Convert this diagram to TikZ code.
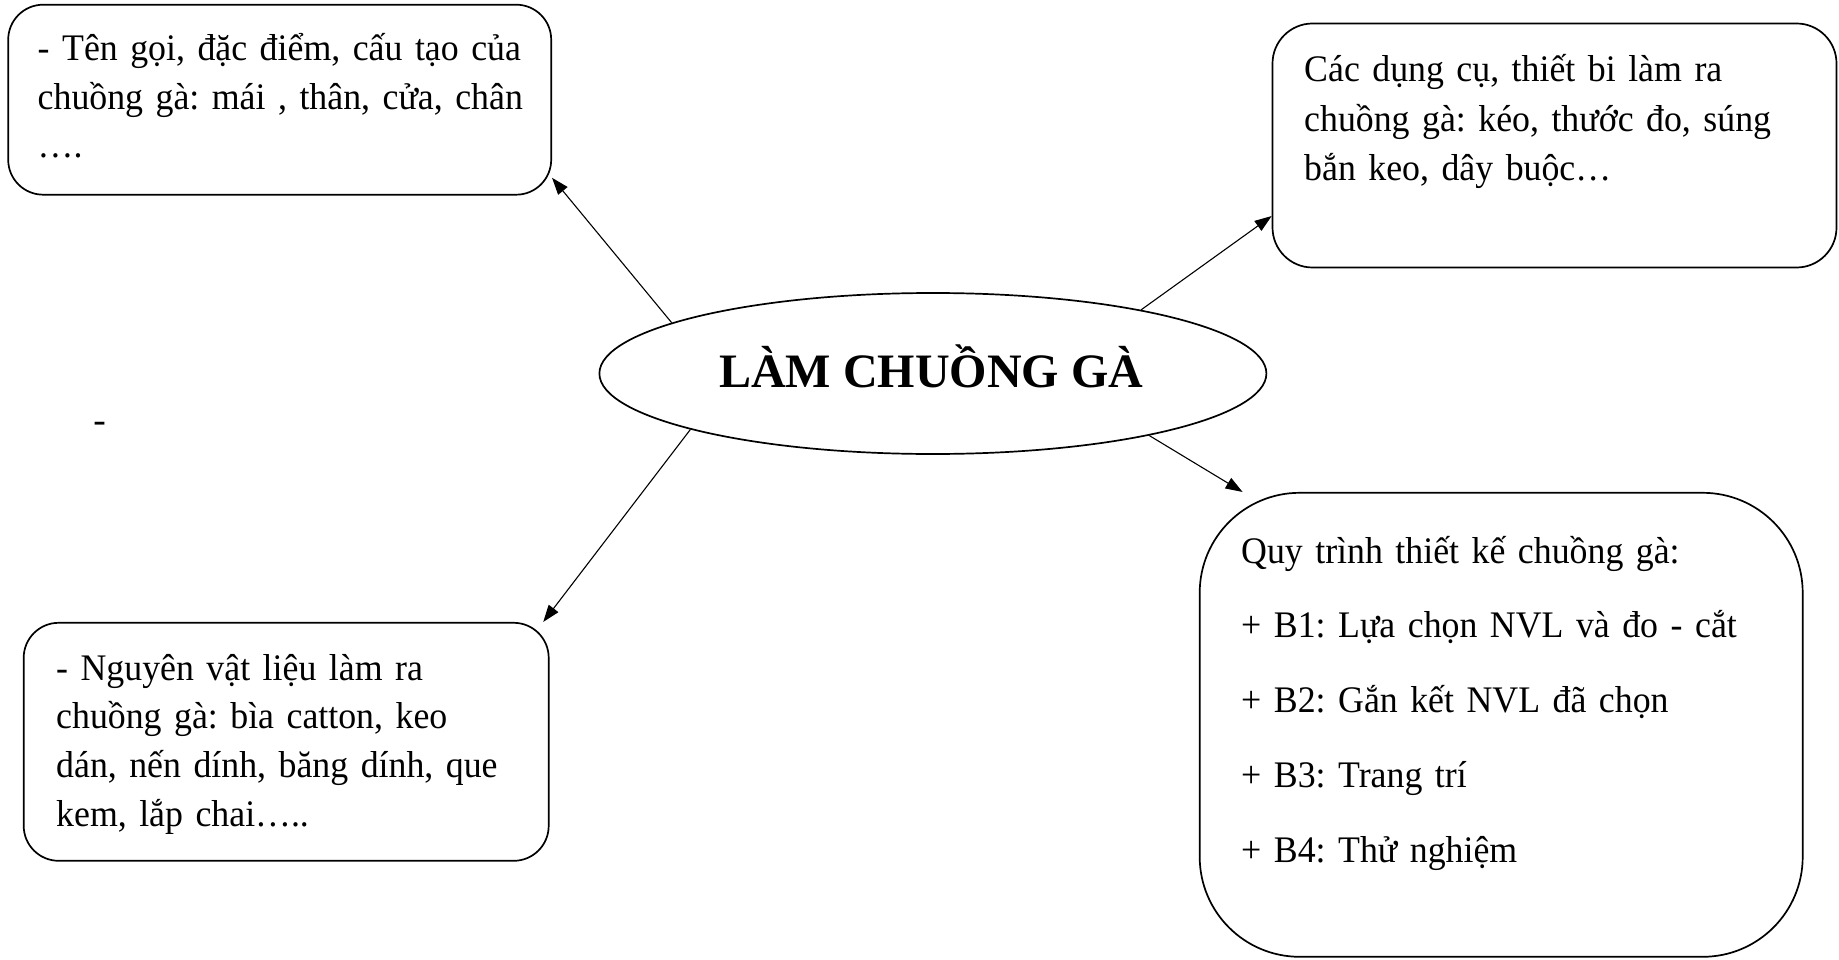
\documentclass[tikz,border=0pt]{standalone}
\usepackage{fontspec}
\setmainfont{Liberation Serif}
\newfontfamily\bodyfont[FakeStretch=0.955]{Liberation Serif}
\usetikzlibrary{shapes.geometric,arrows.meta,calc}
\frenchspacing
\begin{document}
\begin{tikzpicture}[x=1pt,y=-1pt,
  box/.style={draw,line width=1.7pt,rounded corners=#1,inner sep=0pt},
  txt/.style={font=\bodyfont\fontsize{37.5}{#1}\selectfont\frenchspacing,align=left,inner sep=0pt,anchor=base west,text width=600pt},
  arr/.style={-{Triangle[length=17pt,width=12pt]},line width=1.1pt}]
\useasboundingbox (0,0) rectangle (1839,960);
% boxes
\node[box=35pt,minimum width=543pt,minimum height=190pt] (b1) at (279.7,99.7) {};
\node[box=40pt,minimum width=564pt,minimum height=244pt] (b2) at (1554.5,145.5) {};
\node[box=35pt,minimum width=525pt,minimum height=238pt] (b3) at (286.2,741.8) {};
\node[box=100pt,minimum width=603pt,minimum height=464pt] (b4) at (1501.2,724.8) {};
% centre
\node[ellipse,draw,line width=1.7pt,minimum width=667pt,minimum height=161pt,inner sep=0pt] (ell) at (932.9,373.5) {};
\node[font=\fontsize{48}{56}\selectfont\bfseries,anchor=base,inner sep=0pt] (title) at (931,387) {LÀM CHUỒNG GÀ};
% texts
\node[txt=48.5pt] (t1) at (37.5,61) {- Tên gọi, đặc điểm, cấu tạo của\\chuồng gà: mái , thân, cửa, chân\\….};
\node[txt=49.5pt] (t2) at (1304,82) {Các dụng cụ, thiết bi làm ra\\chuồng gà: kéo, thước đo, súng\\bắn keo, dây buộc…};
\node[txt=48.7pt] (t3) at (56,680) {- Nguyên vật liệu làm ra\\chuồng gà: bìa catton, keo\\dán, nến dính, băng dính, que\\kem, lắp chai…..};
\node[txt=74.75pt] (t4) at (1241,563) {Quy trình thiết kế chuồng gà:\\+ B1: Lựa chọn NVL và đo - cắt\\+ B2: Gắn kết NVL đã chọn\\+ B3: Trang trí\\+ B4: Thử nghiệm};
\node[font=\fontsize{37.5}{45}\selectfont,inner sep=0pt] (dash) at (99.7,427) {-};
% connectors
\draw[arr] (ell.169.2) -- (b1.-16);
\draw[arr] (ell.17.7) -- (b2.194.9);
\draw[arr] (ell.193.8) -- (b3.25.4);
\draw[arr] (ell.-16.3) -- (b4.138.9);
\end{tikzpicture}
\end{document}
